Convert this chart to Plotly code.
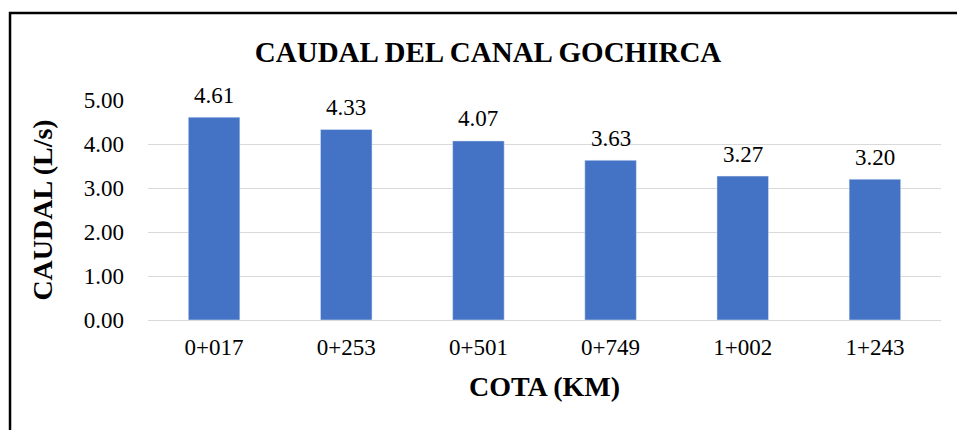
import plotly.graph_objects as go

categories = ["0+017", "0+253", "0+501", "0+749", "1+002", "1+243"]
caudal = [4.61, 4.33, 4.07, 3.63, 3.27, 3.20]
y_ticks = [0, 1, 2, 3, 4, 5]
y_tick_labels = ["0.00", "1.00", "2.00", "3.00", "4.00", "5.00"]

FONT = "Liberation Serif, Times New Roman, serif"

fig = go.Figure(go.Bar(
    x=categories, y=caudal,
    marker_color="#4472C4",
    cliponaxis=False,
))

for c, v in zip(categories, caudal):
    fig.add_annotation(x=c, y=v, text=f"{v:.2f}", showarrow=False,
                       xanchor="center", yanchor="middle", yshift=22,
                       font=dict(family=FONT, size=23, color="#000000"))

fig.update_layout(
    width=957, height=430,
    margin=dict(l=148, r=16, t=100, b=110),
    paper_bgcolor="white", plot_bgcolor="white",
    bargap=0.61,
    showlegend=False,
    title=dict(text="<b>CAUDAL DEL CANAL GOCHIRCA</b>",
               font=dict(family=FONT, size=29, color="#000000"),
               x=0.51, xanchor="center", y=0.880, yanchor="middle"),
    font=dict(family=FONT, color="#000000"),
    xaxis=dict(
        showgrid=False, showline=True, linecolor="#d9d9d9", linewidth=1,
        tickfont=dict(family=FONT, size=23, color="#000000"),
        ticklabelstandoff=6,
        title=dict(text="<b>COTA (KM)</b>", font=dict(family=FONT, size=28, color="#000000"), standoff=17),
    ),
    yaxis=dict(
        range=[0, 5], tickvals=y_ticks, ticktext=y_tick_labels,
        showgrid=True, gridcolor="#d9d9d9", gridwidth=1,
        zeroline=False, showline=False,
        tickfont=dict(family=FONT, size=23, color="#000000"),
        ticklabelstandoff=23,
        title=dict(text="<b>CAUDAL (L/s)</b>", font=dict(family=FONT, size=28, color="#000000"), standoff=22),
    ),
)

fig.add_shape(type="rect", xref="paper", yref="paper",
              x0=-0.174, x1=1.2, y0=-0.7, y1=1.395,
              line=dict(color="black", width=2.5), fillcolor="rgba(0,0,0,0)", layer="above")

fig.write_html("out.html", config={"displayModeBar": False},
               post_script="document.body.style.margin='0px';document.body.style.overflow='hidden';")
